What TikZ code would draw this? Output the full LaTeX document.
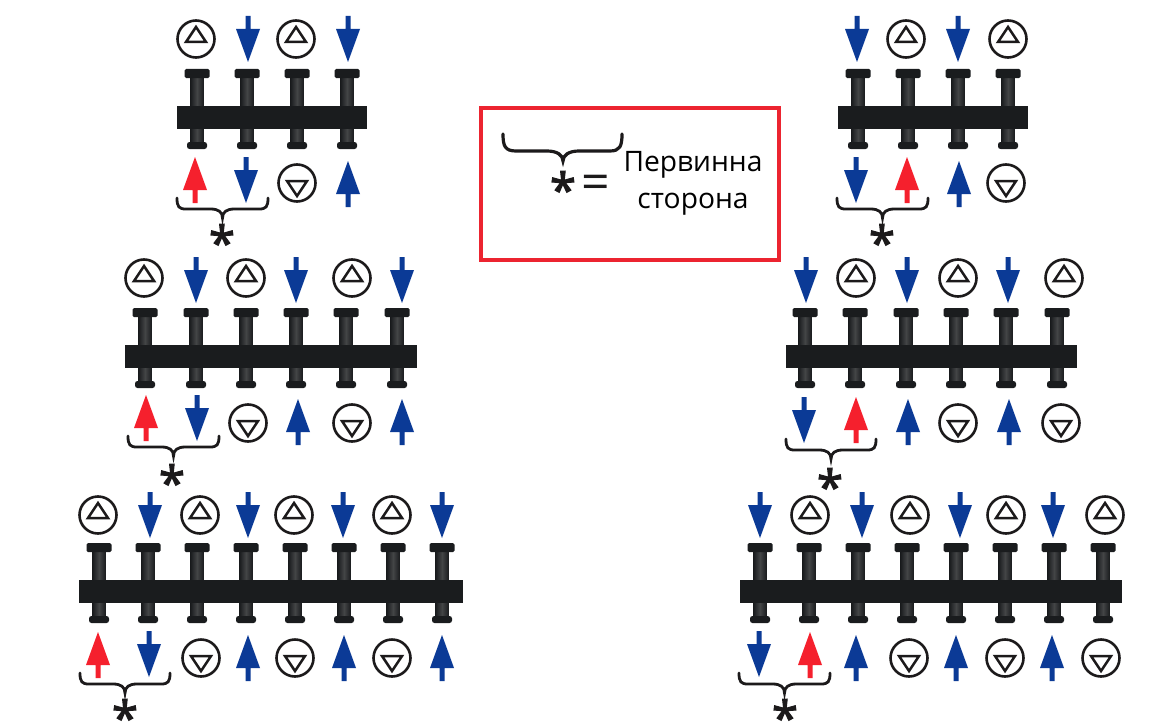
\documentclass[tikz,border=0pt]{standalone}
\usepackage{fontspec}
\setmainfont{Open Sans}
\newfontfamily\starfont{Noto Sans}[FakeBold=2.2]
\definecolor{flowblue}{HTML}{0B3A96}
\definecolor{flowred}{HTML}{F5202D}
\definecolor{metal}{HTML}{1A1C1E}
\definecolor{frame}{HTML}{EC2430}
\definecolor{inkk}{HTML}{1C1A1B}
\tikzset{
  metalfill/.style={fill=metal,draw=none},
  stemfill/.style={left color=metal,right color=metal,middle color=metal!82!white,draw=none},
  ring/.style={draw=inkk,line width=2.6pt,fill=white},
  wedge/.style={draw=inkk,line width=2.5pt,line join=miter,fill=none},
  bracket/.style={draw=inkk,line width=2.8pt,line cap=round,fill=none},
  starmark/.style={inner sep=0pt,anchor=base,text=inkk,font=\starfont\fontsize{47}{47}\selectfont},
  legendtext/.style={inner sep=0pt,text=black,font=\fontsize{28.2}{36}\selectfont}
}
% arrows: x, top y, colour
\newcommand{\flowdown}[3]{\fill[#3] (#1-2.5,#2) -- (#1+2.5,#2) -- (#1+2.5,#2+13) -- (#1+12,#2+13) -- (#1,#2+46) -- (#1-12,#2+13) -- (#1-2.5,#2+13) -- cycle;}
\newcommand{\flowup}[3]{\fill[#3] (#1-2.5,#2+46) -- (#1+2.5,#2+46) -- (#1+2.5,#2+33) -- (#1+12,#2+33) -- (#1,#2) -- (#1-12,#2+33) -- (#1-2.5,#2+33) -- cycle;}
% pumps: x, y
\newcommand{\pumpup}[2]{\draw[ring] (#1,#2) circle (18.5); \draw[wedge] (#1,#2-12) -- (#1+10,#2+3) -- (#1-10,#2+3) -- cycle;}
\newcommand{\pumpdown}[2]{\draw[ring] (#1,#2) circle (18.5); \draw[wedge] (#1,#2+13) -- (#1+10,#2-2) -- (#1-10,#2-2) -- cycle;}
% manifold: x0, x1, pipe top y, stub list
\newcommand{\manifold}[4]{%
  \foreach \s in {#4}{
    \shade[stemfill] (\s-6.5,#3-30) rectangle (\s+6.5,#3+38);
    \fill[metalfill,rounded corners=1.5pt] (\s-12.5,#3-37) rectangle (\s+12.5,#3-28);
    \fill[metalfill,rounded corners=2.5pt] (\s-10,#3+36) rectangle (\s+10,#3+43);
  }
  \fill[metalfill] (#1,#3) rectangle (#2,#3+23);
}
% bracket: x0, x1, y0
\newcommand{\bracefig}[3]{%
  \draw[bracket] (#1,#3) .. controls (#1,#3+9) and (#1+2,#3+11) .. (#1+9,#3+11)
    -- ({(#1+#2)/2-12},#3+11) .. controls ({(#1+#2)/2-4},#3+11) and ({(#1+#2)/2},#3+14) .. ({(#1+#2)/2},#3+20)
    .. controls ({(#1+#2)/2},#3+14) and ({(#1+#2)/2+4},#3+11) .. ({(#1+#2)/2+12},#3+11)
    -- (#2-9,#3+11) .. controls (#2-2,#3+11) and (#2,#3+9) .. (#2,#3);
}
\newcommand{\starat}[2]{\node[starmark] (star-#1-#2) at (#1,#2) {⁎};}
\begin{document}
\begin{tikzpicture}[x=1pt,y=-1pt]
\useasboundingbox (0,0) rectangle (1175,725);
\fill[white] (0,0) rectangle (1175,725);

% top left
\pumpup{196}{39}\flowdown{248}{16}{flowblue}\pumpup{296}{39}\flowdown{348}{16}{flowblue}
\manifold{177}{367}{106}{197,247,297,347}
\flowup{195}{157}{flowred}\flowdown{246}{157}{flowblue}\pumpdown{297}{183}\flowup{348}{161}{flowblue}
\bracefig{177}{268}{198}\starat{222}{236}

% top right
\flowdown{857}{16}{flowblue}\pumpup{906}{39}\flowdown{958}{16}{flowblue}\pumpup{1008}{39}
\manifold{838}{1028}{106}{858,908,958,1008}
\flowdown{856}{157}{flowblue}\flowup{907}{157}{flowred}\flowup{959}{161}{flowblue}\pumpdown{1006}{183}
\bracefig{837}{928}{198}\starat{882}{236}

% middle left
\pumpup{144}{278}\flowdown{196}{257}{flowblue}\pumpup{246}{278}\flowdown{296}{257}{flowblue}\pumpup{352}{278}\flowdown{402}{257}{flowblue}
\manifold{125}{417}{345}{145,196,246,296,346,397}
\flowup{146}{395}{flowred}\flowdown{197}{395}{flowblue}\pumpdown{248}{423}\flowup{298}{399}{flowblue}\pumpdown{352}{423}\flowup{402}{399}{flowblue}
\bracefig{128}{219}{436}\starat{172}{476}

% middle right
\flowdown{806}{257}{flowblue}\pumpup{856}{278}\flowdown{907}{257}{flowblue}\pumpup{958}{278}\flowdown{1008}{257}{flowblue}\pumpup{1064}{278}
\manifold{786}{1077}{345}{805,855,906,956,1006,1057}
\flowdown{804}{397}{flowblue}\flowup{856}{397}{flowred}\flowup{908}{399}{flowblue}\pumpdown{958}{423}\flowup{1009}{399}{flowblue}\pumpdown{1061}{423}
\bracefig{786}{876}{439}\starat{830}{480}

% bottom left
\pumpup{98}{515}\flowdown{150}{492}{flowblue}\pumpup{200}{515}\flowdown{248}{492}{flowblue}\pumpup{294}{515}\flowdown{343}{492}{flowblue}\pumpup{392}{515}\flowdown{442}{492}{flowblue}
\manifold{79}{463}{580}{99,148,197,246,295,344,393,442}
\flowup{98}{632}{flowred}\flowdown{149}{631}{flowblue}\pumpdown{201}{658}\flowup{248}{635}{flowblue}\pumpdown{295}{658}\flowup{344}{635}{flowblue}\pumpdown{392}{658}\flowup{442}{635}{flowblue}
\bracefig{80}{170}{673}\starat{125}{711}

% bottom right
\flowdown{760}{492}{flowblue}\pumpup{810}{515}\flowdown{862}{492}{flowblue}\pumpup{910}{515}\flowdown{960}{492}{flowblue}\pumpup{1006}{515}\flowdown{1053}{492}{flowblue}\pumpup{1105}{515}
\manifold{740}{1122}{580}{760,809,858,907,956,1005,1054,1103}
\flowdown{759}{631}{flowblue}\flowup{810}{632}{flowred}\flowup{856}{635}{flowblue}\pumpdown{909}{658}\flowup{956}{635}{flowblue}\pumpdown{1005}{658}\flowup{1052}{635}{flowblue}\pumpdown{1101}{658}
\bracefig{739}{830}{673}\starat{785}{711}

% legend
\draw[frame,line width=4pt] (481,108) rectangle (779,260);
\draw[bracket,line width=3.2pt] (503,134) .. controls (503,146) and (505,151) .. (516,151)
  -- (547,151) .. controls (557,151) and (563,155) .. (563,161)
  .. controls (563,155) and (569,151) .. (579,151)
  -- (610,151) .. controls (620,151) and (622,146) .. (622,134);
\starat{563}{183}
\node[inner sep=0pt,text=inkk,font=\fontsize{50}{50}\selectfont] (eq) at (596,187) {=};
\node[legendtext] (lab1) at (693,165) {Первинна};
\node[legendtext] (lab2) at (693,204) {сторона};
\end{tikzpicture}
\end{document}
